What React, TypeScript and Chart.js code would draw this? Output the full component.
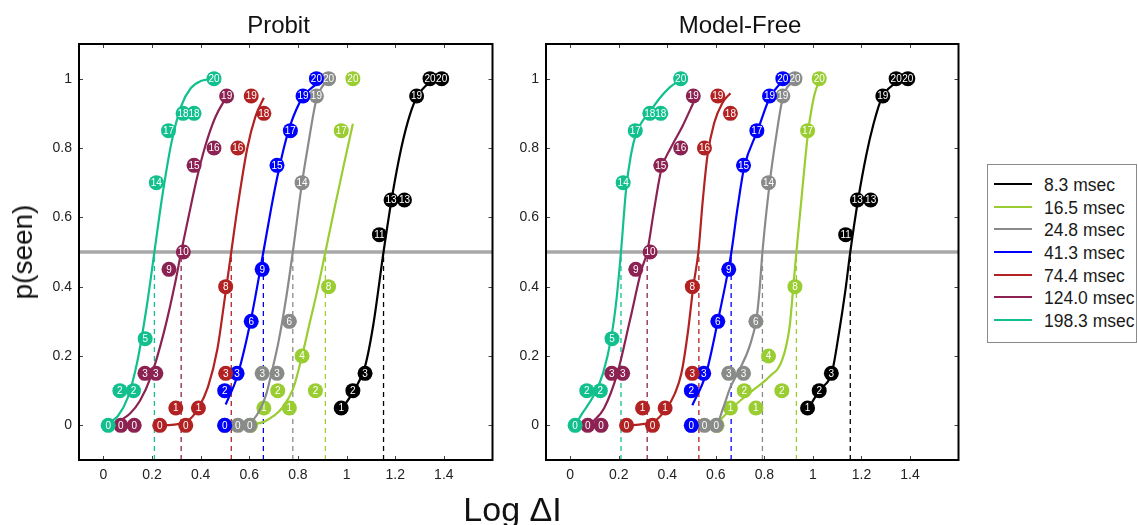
import React, { useEffect, useRef } from 'react';
import { Chart, registerables } from 'chart.js';

Chart.register(...registerables);

const FONT = '"Liberation Sans", Arial, Helvetica, sans-serif';

// ---------- data ----------
const SERIES = ['8.3 msec', '16.5 msec', '24.8 msec', '41.3 msec', '74.4 msec', '124.0 msec', '198.3 msec'];
const TRIALS = 20;

const X_TICKS = [0, 0.2, 0.4, 0.6, 0.8, 1, 1.2, 1.4];
const X_TICK_LABELS = ['0', '0.2', '0.4', '0.6', '0.8', '1', '1.2', '1.4'];
const Y_TICKS = [0, 0.2, 0.4, 0.6, 0.8, 1];
const Y_TICK_LABELS = ['0', '0.2', '0.4', '0.6', '0.8', '1'];

// Log ΔI of each stimulus and number of trials seen (out of 20)
const X_8_3 = [0.978, 1.026, 1.076, 1.135, 1.183, 1.238, 1.288, 1.343, 1.391];
const N_8_3 = [1, 2, 3, 11, 13, 13, 19, 20, 20];
const X_16_5 = [0.605, 0.66, 0.717, 0.765, 0.817, 0.872, 0.926, 0.978, 1.026];
const N_16_5 = [0, 1, 2, 1, 4, 2, 8, 17, 20];
const X_24_8 = [0.499, 0.553, 0.602, 0.653, 0.714, 0.765, 0.817, 0.876, 0.926];
const N_24_8 = [0, 0, 0, 3, 3, 6, 14, 19, 20];
const X_41_3 = [0.499, 0.499, 0.55, 0.608, 0.653, 0.714, 0.769, 0.821, 0.876];
const N_41_3 = [0, 2, 3, 6, 9, 15, 17, 19, 20];
const X_74_4 = [0.232, 0.298, 0.339, 0.391, 0.503, 0.503, 0.553, 0.608, 0.66];
const N_74_4 = [0, 1, 0, 1, 3, 8, 16, 19, 18];
const X_124_0 = [0.072, 0.127, 0.171, 0.216, 0.27, 0.329, 0.373, 0.455, 0.507];
const N_124_0 = [0, 0, 3, 3, 9, 10, 15, 16, 19];
const X_198_3 = [0.02, 0.068, 0.124, 0.172, 0.218, 0.268, 0.328, 0.373, 0.455];
const N_198_3 = [0, 2, 2, 5, 14, 17, 18, 18, 20];

// 50% thresholds (dashed lines)
const PROBIT_THRESHOLDS = [1.152, 0.913, 0.779, 0.658, 0.526, 0.32, 0.21];
const MODEL_FREE_THRESHOLDS = [1.154, 0.932, 0.792, 0.663, 0.53, 0.317, 0.209];

// Probit fitted curves: [Log ΔI, p(seen)]
const PROBIT_8_3 = [[0.978, 0.045], [1.026, 0.095], [1.076, 0.17], [1.11, 0.29], [1.152, 0.5], [1.186, 0.655], [1.225, 0.8], [1.26, 0.895], [1.288, 0.945], [1.34, 0.988], [1.391, 0.999]];
const PROBIT_16_5 = [[0.605, 0.002], [0.66, 0.01], [0.7, 0.027], [0.735, 0.05], [0.78, 0.105], [0.817, 0.2], [0.85, 0.3], [0.88, 0.39], [0.913, 0.5], [0.95, 0.625], [0.99, 0.755], [1.026, 0.87]];
const PROBIT_24_8 = [[0.499, 0], [0.6, 0.008], [0.64, 0.04], [0.67, 0.09], [0.691, 0.15], [0.72, 0.24], [0.75, 0.36], [0.779, 0.5], [0.817, 0.7], [0.84, 0.8], [0.876, 0.94], [0.9, 0.977], [0.926, 0.995]];
const PROBIT_41_3 = [[0.503, 0.06], [0.55, 0.14], [0.608, 0.309], [0.658, 0.5], [0.69, 0.626], [0.714, 0.712], [0.745, 0.808], [0.769, 0.867], [0.821, 0.948], [0.876, 0.985]];
const PROBIT_74_4 = [[0.232, 0], [0.3, 0.003], [0.35, 0.014], [0.391, 0.05], [0.43, 0.11], [0.469, 0.22], [0.5, 0.37], [0.526, 0.5], [0.55, 0.62], [0.592, 0.8], [0.625, 0.89], [0.66, 0.945]];
const PROBIT_124_0 = [[0.072, 0.015], [0.11, 0.034], [0.15, 0.07], [0.195, 0.139], [0.25, 0.271], [0.298, 0.42], [0.32, 0.5], [0.35, 0.6], [0.383, 0.708], [0.418, 0.803], [0.46, 0.888], [0.507, 0.948]];
const PROBIT_198_3 = [[0.02, 0.007], [0.06, 0.027], [0.1, 0.079], [0.14, 0.185], [0.18, 0.35], [0.21, 0.5], [0.24, 0.65], [0.28, 0.815], [0.32, 0.921], [0.36, 0.973], [0.4, 0.993], [0.455, 0.999]];

// Model-free fitted curves: [Log ΔI, p(seen)]
const MF_8_3 = [[0.978, 0.045], [1.026, 0.1], [1.079, 0.155], [1.107, 0.265], [1.134, 0.39], [1.154, 0.5], [1.186, 0.65], [1.22, 0.78], [1.25, 0.87], [1.284, 0.945], [1.33, 0.982], [1.391, 0.999]];
const MF_16_5 = [[0.605, 0.005], [0.663, 0.048], [0.751, 0.1], [0.82, 0.14], [0.874, 0.19], [0.904, 0.285], [0.918, 0.39], [0.932, 0.5], [0.955, 0.67], [0.981, 0.85], [1.005, 0.95], [1.026, 0.995]];
const MF_24_8 = [[0.499, 0], [0.6, 0.0], [0.63, 0.05], [0.66, 0.11], [0.697, 0.16], [0.74, 0.23], [0.768, 0.31], [0.78, 0.39], [0.792, 0.5], [0.822, 0.7], [0.85, 0.84], [0.876, 0.945], [0.926, 0.998]];
const MF_41_3 = [[0.503, 0.058], [0.56, 0.15], [0.608, 0.3], [0.653, 0.455], [0.663, 0.495], [0.69, 0.63], [0.717, 0.745], [0.772, 0.85], [0.822, 0.945], [0.876, 0.995]];
const MF_74_4 = [[0.232, 0], [0.29, 0.003], [0.348, 0.012], [0.396, 0.048], [0.43, 0.09], [0.458, 0.15], [0.485, 0.27], [0.507, 0.4], [0.528, 0.5], [0.545, 0.64], [0.565, 0.776], [0.593, 0.872], [0.627, 0.93], [0.66, 0.958]];
const MF_124_0 = [[0.072, 0.0], [0.1, 0.015], [0.14, 0.05], [0.194, 0.15], [0.245, 0.3], [0.294, 0.45], [0.317, 0.5], [0.345, 0.62], [0.376, 0.74], [0.414, 0.8], [0.462, 0.862], [0.507, 0.93]];
const MF_198_3 = [[0.02, 0.0], [0.05, 0.035], [0.096, 0.085], [0.135, 0.15], [0.168, 0.25], [0.19, 0.36], [0.209, 0.5], [0.23, 0.68], [0.25, 0.78], [0.273, 0.845], [0.3, 0.88], [0.328, 0.905], [0.37, 0.945], [0.41, 0.975], [0.455, 0.997]];

const POINT_X = [X_8_3, X_16_5, X_24_8, X_41_3, X_74_4, X_124_0, X_198_3];
const POINT_N = [N_8_3, N_16_5, N_24_8, N_41_3, N_74_4, N_124_0, N_198_3];
const PROBIT_CURVES = [PROBIT_8_3, PROBIT_16_5, PROBIT_24_8, PROBIT_41_3, PROBIT_74_4, PROBIT_124_0, PROBIT_198_3];
const MF_CURVES = [MF_8_3, MF_16_5, MF_24_8, MF_41_3, MF_74_4, MF_124_0, MF_198_3];

// ---------- styles ----------
const COLORS = ['#000000', '#9acd32', '#898b89', '#0000ff', '#b22222', '#8b2252', '#12c08e'];

const pointLabelPlugin = {
  id: 'pointLabels',
  afterDatasetDraw(chart: any, args: any) {
    const ds = chart.data.datasets[args.index];
    if (!ds.counts) return;
    const ctx = chart.ctx;
    ctx.save();
    ctx.font = `10px ${FONT}`;
    ctx.fillStyle = '#ffffff';
    ctx.textAlign = 'center';
    ctx.textBaseline = 'middle';
    args.meta.data.forEach((el: any, j: number) => {
      ctx.fillText(String(ds.counts[j]), el.x, el.y + 0.5);
    });
    ctx.restore();
  },
};

const framePlugin = {
  id: 'frame',
  afterDraw(chart: any) {
    const { ctx, chartArea } = chart;
    const { left, right, top, bottom } = chartArea;
    const xs = chart.scales.x;
    const ys = chart.scales.y;
    ctx.save();
    ctx.strokeStyle = '#444';
    ctx.lineWidth = 1;
    ctx.beginPath();
    X_TICKS.forEach((v) => {
      const px = Math.round(xs.getPixelForValue(v)) + 0.5;
      ctx.moveTo(px, bottom); ctx.lineTo(px, bottom - 4);
      ctx.moveTo(px, top); ctx.lineTo(px, top + 4);
    });
    Y_TICKS.forEach((v) => {
      const py = Math.round(ys.getPixelForValue(v)) + 0.5;
      ctx.moveTo(left, py); ctx.lineTo(left + 4, py);
      ctx.moveTo(right, py); ctx.lineTo(right - 4, py);
    });
    ctx.stroke();
    ctx.strokeStyle = '#000';
    ctx.lineWidth = 2;
    ctx.strokeRect(left, top, right - left, bottom - top);
    ctx.restore();
  },
};

function makeConfig(curves: number[][][], thresholds: number[], yAxisWidth: number): any {
  const datasets: any[] = [];
  const n = SERIES.length;
  for (let i = 0; i < n; i++) {
    const color = COLORS[i];
    const layer = 2 * (n - 1 - i);
    datasets.push({
      label: SERIES[i],
      data: POINT_X[i].map((x, j) => ({ x, y: POINT_N[i][j] / TRIALS })),
      counts: POINT_N[i],
      showLine: false,
      pointRadius: 7.5,
      pointHoverRadius: 7.5,
      pointBackgroundColor: color,
      pointBorderColor: color,
      pointBorderWidth: 0,
      order: layer,
    });
    datasets.push({
      label: SERIES[i] + ' fit',
      data: curves[i].map(([x, y]) => ({ x, y })),
      showLine: true,
      borderColor: color,
      borderWidth: 2.2,
      pointRadius: 0,
      pointHoverRadius: 0,
      cubicInterpolationMode: 'monotone',
      fill: false,
      order: layer + 1,
    });
    datasets.push({
      label: SERIES[i] + ' threshold',
      data: [{ x: thresholds[i], y: -0.1 }, { x: thresholds[i], y: 0.5 }],
      showLine: true,
      borderColor: color,
      borderWidth: 1.3,
      borderDash: [5, 4],
      pointRadius: 0,
      pointHoverRadius: 0,
      order: 20,
    });
  }
  datasets.push({
    label: 'half',
    data: [{ x: -0.1, y: 0.5 }, { x: 1.6, y: 0.5 }],
    showLine: true,
    borderColor: '#a8a8a8',
    borderWidth: 3.5,
    pointRadius: 0,
    pointHoverRadius: 0,
    order: 30,
  });

  const tickFont = { family: FONT, size: 14 };
  return {
    type: 'scatter',
    data: { datasets },
    options: {
      animation: false,
      responsive: false,
      devicePixelRatio: 1,
      events: [],
      layout: { padding: { top: 44, right: 5, left: 0, bottom: 0 } },
      plugins: { legend: { display: false }, tooltip: { enabled: false }, title: { display: false } },
      scales: {
        x: {
          type: 'linear',
          min: -0.1,
          max: 1.6,
          grid: { display: false, drawTicks: false },
          border: { display: false },
          ticks: {
            font: tickFont,
            color: '#222',
            padding: 7,
            maxRotation: 0,
            autoSkip: false,
            callback: (v: number) => {
              const k = X_TICKS.findIndex((t) => Math.abs(t - v) < 1e-9);
              return k >= 0 ? X_TICK_LABELS[k] : '';
            },
          },
          afterBuildTicks: (axis: any) => {
            axis.ticks = X_TICKS.map((value) => ({ value }));
          },
          afterFit: (axis: any) => {
            axis.height = 65;
          },
        },
        y: {
          type: 'linear',
          min: -0.1,
          max: 1.1,
          grid: { display: false, drawTicks: false },
          border: { display: false },
          ticks: {
            font: tickFont,
            color: '#222',
            padding: 7,
            autoSkip: false,
            callback: (v: number) => {
              const k = Y_TICKS.findIndex((t) => Math.abs(t - v) < 1e-9);
              return k >= 0 ? Y_TICK_LABELS[k] : '';
            },
          },
          afterBuildTicks: (axis: any) => {
            axis.ticks = Y_TICKS.map((value) => ({ value }));
          },
          afterFit: (axis: any) => {
            axis.width = yAxisWidth;
          },
        },
      },
    },
    plugins: [pointLabelPlugin, framePlugin],
  };
}

export default function App() {
  const leftRef = useRef<HTMLCanvasElement>(null);
  const rightRef = useRef<HTMLCanvasElement>(null);

  useEffect(() => {
    const a = new Chart(leftRef.current as HTMLCanvasElement, makeConfig(PROBIT_CURVES, PROBIT_THRESHOLDS, 79));
    const b = new Chart(rightRef.current as HTMLCanvasElement, makeConfig(MF_CURVES, MODEL_FREE_THRESHOLDS, 46));
    return () => {
      a.destroy();
      b.destroy();
    };
  }, []);

  const textBase: React.CSSProperties = {
    position: 'absolute',
    whiteSpace: 'nowrap',
    lineHeight: 1,
    color: '#111',
    fontFamily: FONT,
  };

  return (
    <div
      style={{
        position: 'absolute',
        left: 0,
        top: 0,
        width: 1138,
        height: 525,
        overflow: 'hidden',
        background: '#fff',
        fontFamily: FONT,
      }}
    >
      <canvas ref={leftRef} width={500} height={525} style={{ position: 'absolute', left: 0, top: 0, width: 500, height: 525 }} />
      <canvas ref={rightRef} width={466} height={525} style={{ position: 'absolute', left: 500, top: 0, width: 466, height: 525 }} />

      <div style={{ ...textBase, fontSize: 24, left: 278.5, top: 13, transform: 'translateX(-50%)' }}>Probit</div>
      <div style={{ ...textBase, fontSize: 24, left: 740, top: 13, transform: 'translateX(-50%)' }}>Model-Free</div>

      <div style={{ ...textBase, fontSize: 28, left: 23, top: 252, transform: 'translate(-50%, -50%) rotate(-90deg)' }}>p(seen)</div>
      <div style={{ ...textBase, fontSize: 34, left: 512.5, top: 492, transform: 'translateX(-50%)' }}>Log ΔI</div>

      <div
        style={{
          position: 'absolute',
          left: 987,
          top: 164,
          width: 150,
          height: 179,
          border: '1px solid #8a8a8a',
          boxSizing: 'border-box',
          background: '#fff',
          overflow: 'hidden',
        }}
      >
        {SERIES.map((s, i) => (
          <div
            key={s}
            style={{
              position: 'absolute',
              left: 0,
              top: 184 + i * 22.67 - 165 - 11,
              height: 22,
              display: 'flex',
              alignItems: 'center',
            }}
          >
            <span style={{ display: 'inline-block', marginLeft: 6, width: 38, height: 2, background: COLORS[i] }} />
            <span
              style={{
                marginLeft: 12,
                fontSize: 17.5,
                lineHeight: '22px',
                color: '#1a1a1a',
                whiteSpace: 'nowrap',
                position: 'relative',
                top: 1,
                fontFamily: FONT,
              }}
            >
              {s}
            </span>
          </div>
        ))}
      </div>
    </div>
  );
}
